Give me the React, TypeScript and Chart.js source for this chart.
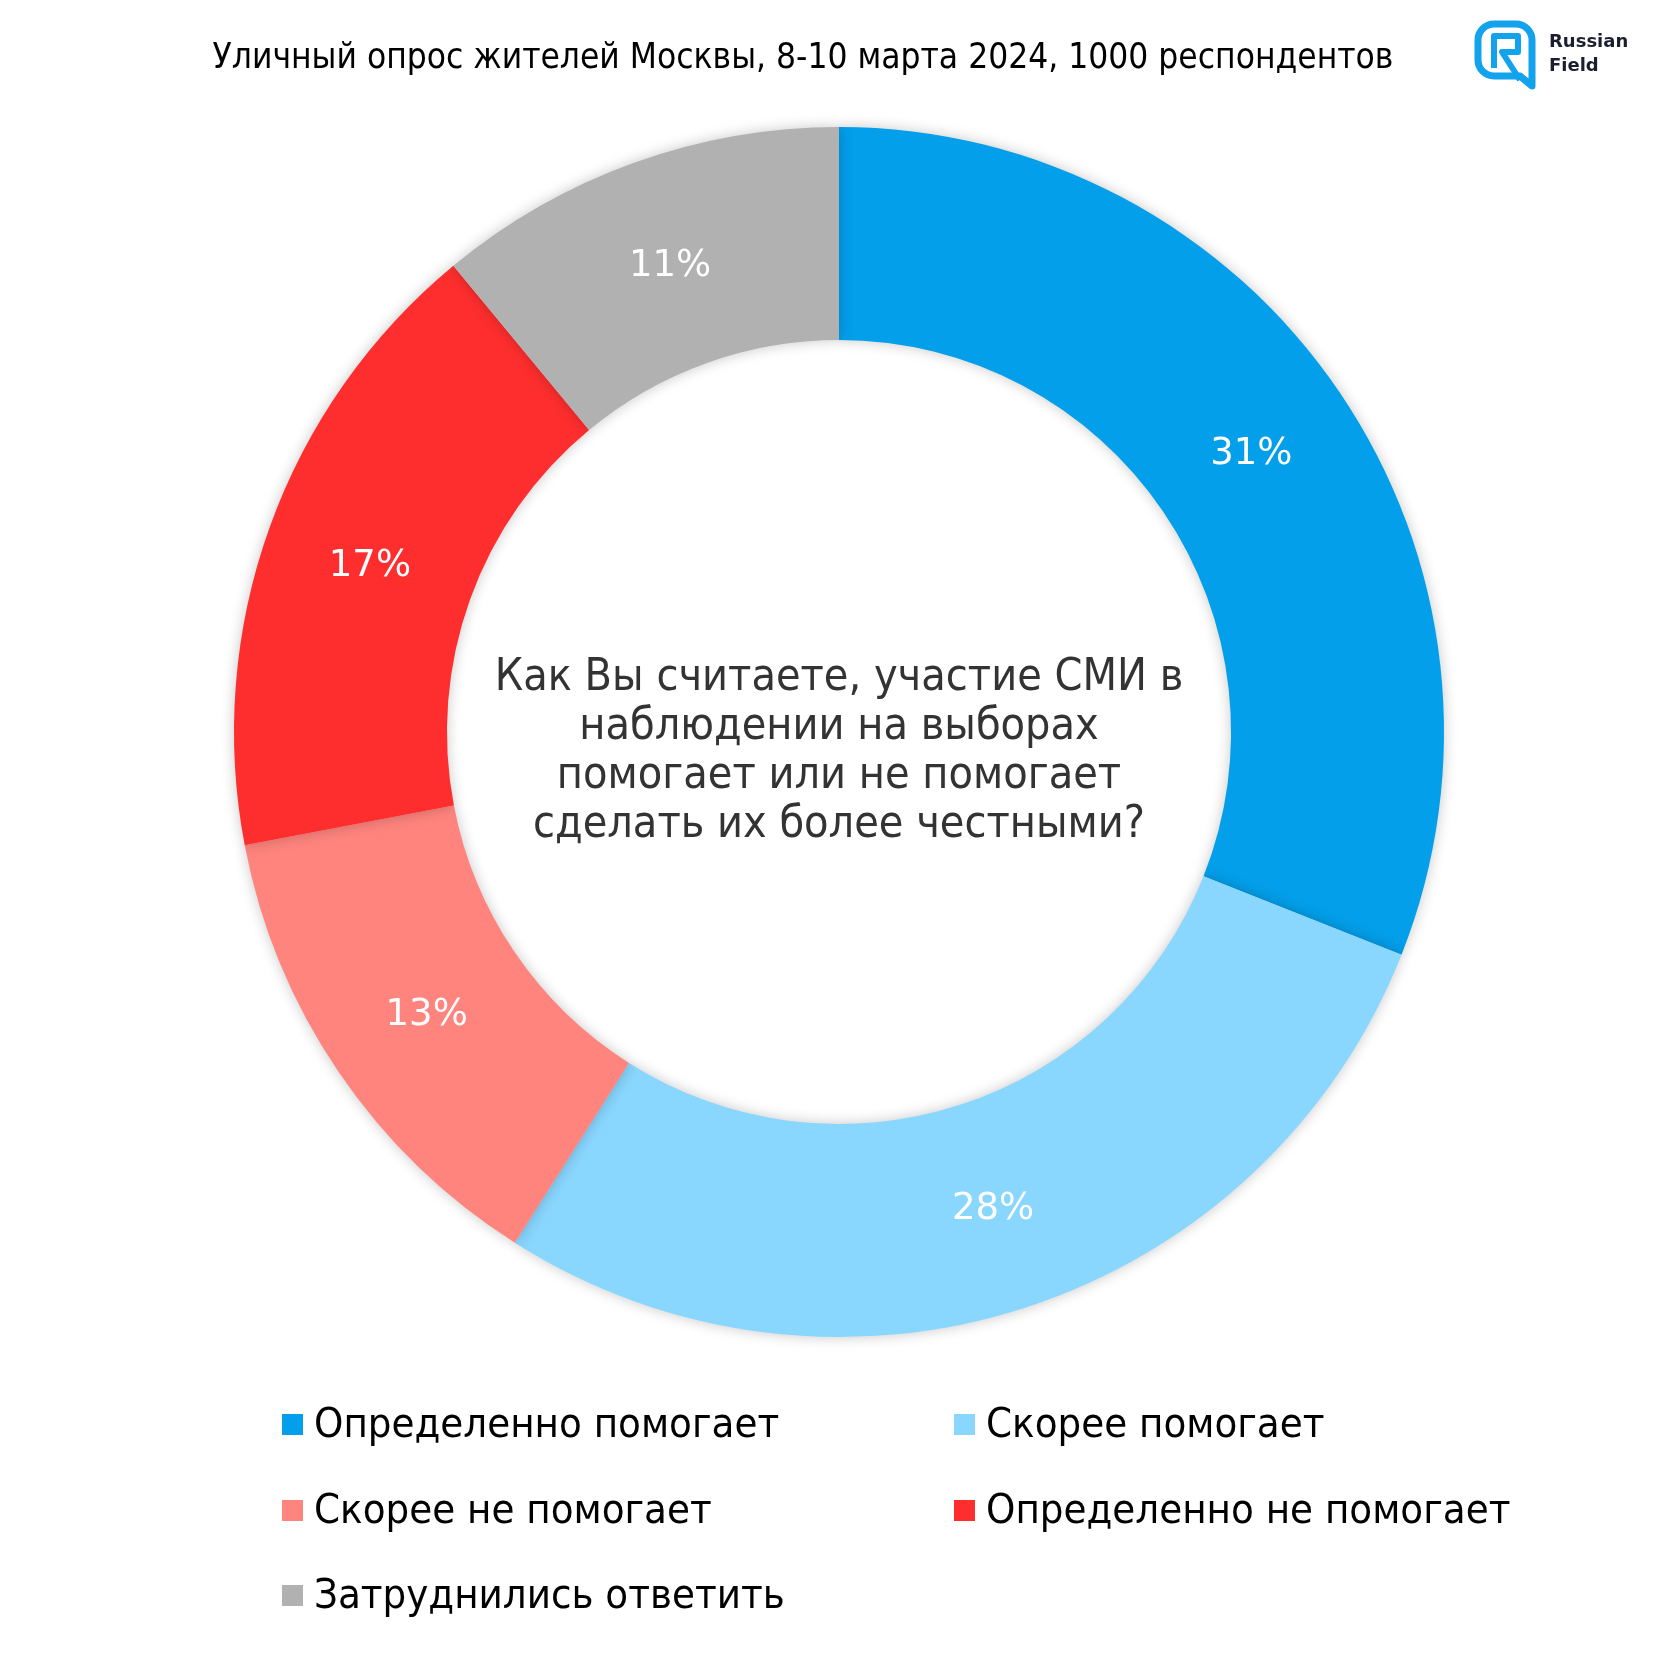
import React, { useEffect, useRef } from "react";
import { Chart, registerables } from "chart.js";

Chart.register(...registerables);

const categories = [
  "Определенно помогает",
  "Скорее помогает",
  "Скорее не помогает",
  "Определенно не помогает",
  "Затруднились ответить",
];
const values = [31, 28, 13, 17, 11];
const colors = ["#039FEA", "#89D6FE", "#FF847E", "#FF2E2E", "#B1B1B1"];
const titleText = "Уличный опрос жителей Москвы, 8-10 марта 2024, 1000 респондентов";
const centerLines = [
  "Как Вы считаете, участие СМИ в",
  "наблюдении на выборах",
  "помогает или не помогает",
  "сделать их более честными?",
];
const logoLines = ["Russian", "Field"];

const COND = '"DejaVu Sans Condensed", "DejaVu Sans", sans-serif';
const SANS = '"DejaVu Sans", sans-serif';

const shadowPlugin = {
  id: "shadow",
  beforeDatasetDraw(chart: any) {
    const ctx = chart.ctx;
    ctx.save();
    ctx.shadowColor = "rgba(0,0,0,0.22)";
    ctx.shadowBlur = 14;
    ctx.shadowOffsetX = 0;
    ctx.shadowOffsetY = 0;
  },
  afterDatasetDraw(chart: any) {
    chart.ctx.restore();
  },
};

const decorPlugin = {
  id: "decor",
  afterDraw(chart: any) {
    const ctx = chart.ctx as CanvasRenderingContext2D;
    const meta = chart.getDatasetMeta(0);
    const data = chart.data.datasets[0].data as number[];
    const bg = chart.data.datasets[0].backgroundColor as string[];
    const labels = chart.data.labels as string[];

    // percentage labels
    ctx.save();
    ctx.fillStyle = "#ffffff";
    ctx.font = `37px ${SANS}`;
    ctx.textAlign = "center";
    ctx.textBaseline = "middle";
    meta.data.forEach((arc: any, i: number) => {
      const p = arc.tooltipPosition();
      ctx.fillText(`${data[i]}%`, p.x, p.y + 3);
    });
    ctx.restore();

    // center question
    const cx = (chart.chartArea.left + chart.chartArea.right) / 2;
    const cy = (chart.chartArea.top + chart.chartArea.bottom) / 2;
    ctx.save();
    ctx.fillStyle = "#333333";
    ctx.font = `44.5px ${COND}`;
    ctx.textAlign = "center";
    ctx.textBaseline = "middle";
    const lh = 49;
    const start = cy - ((centerLines.length - 1) * lh) / 2 + 20;
    centerLines.forEach((l, i) => ctx.fillText(l, cx, start + i * lh));
    ctx.restore();

    // title
    ctx.save();
    ctx.fillStyle = "#000000";
    ctx.font = `35px ${COND}`;
    ctx.textAlign = "center";
    ctx.textBaseline = "middle";
    ctx.fillText(titleText, 803, 59);
    ctx.restore();

    // legend
    ctx.save();
    ctx.font = `41.5px ${COND}`;
    ctx.textBaseline = "middle";
    ctx.textAlign = "left";
    const colX = [282, 954];
    const rowY = [1425, 1511, 1596];
    labels.forEach((lab, i) => {
      const x = colX[i % 2];
      const y = rowY[Math.floor(i / 2)];
      ctx.fillStyle = bg[i];
      ctx.fillRect(x, y - 11, 21, 21);
      ctx.fillStyle = "#000000";
      ctx.fillText(lab, x + 32, y + 1);
    });
    ctx.restore();

    // logo
    ctx.save();
    ctx.strokeStyle = "#12A3EC";
    ctx.lineWidth = 7;
    ctx.lineJoin = "round";
    const lx = 1478, ly = 24, lw = 54, lhh = 54, r = 16;
    ctx.beginPath();
    ctx.moveTo(lx + r, ly);
    ctx.lineTo(lx + lw - r, ly);
    ctx.arcTo(lx + lw, ly, lx + lw, ly + r, r);
    ctx.lineTo(lx + lw, ly + lhh + 8);
    ctx.lineTo(lx + lw - 12, ly + lhh - 2);
    ctx.lineTo(lx + r, ly + lhh - 2);
    ctx.arcTo(lx, ly + lhh - 2, lx, ly + lhh - 2 - r, r);
    ctx.lineTo(lx, ly + r);
    ctx.arcTo(lx, ly, lx + r, ly, r);
    ctx.closePath();
    ctx.stroke();
    ctx.lineWidth = 6;
    ctx.beginPath();
    ctx.moveTo(lx + 16, ly + lhh - 10);
    ctx.lineTo(lx + 16, ly + 12);
    ctx.lineTo(lx + lw - 14, ly + 12);
    ctx.lineTo(lx + lw - 14, ly + 28);
    ctx.lineTo(lx + 24, ly + 28);
    ctx.lineTo(lx + lw - 12, ly + lhh + 2);
    ctx.stroke();
    ctx.fillStyle = "#1B1E2E";
    ctx.font = `bold 18px ${SANS}`;
    ctx.textAlign = "left";
    ctx.textBaseline = "middle";
    ctx.fillText(logoLines[0], 1549, 42);
    ctx.fillText(logoLines[1], 1549, 66);
    ctx.restore();
  },
};

export default function App() {
  const ref = useRef<HTMLCanvasElement | null>(null);
  useEffect(() => {
    if (!ref.current) return;
    const chart = new Chart(ref.current, {
      type: "doughnut",
      data: {
        labels: categories,
        datasets: [
          {
            data: values,
            backgroundColor: colors,
            borderWidth: 0,
          },
        ],
      },
      options: {
        animation: false,
        responsive: false,
        maintainAspectRatio: false,
        cutout: "64.8%",
        layout: { padding: { left: 234, right: 236, top: 127, bottom: 343 } },
        plugins: {
          legend: { display: false },
          tooltip: { enabled: false },
          title: { display: false },
        },
      },
      plugins: [shadowPlugin, decorPlugin],
    });
    return () => chart.destroy();
  }, []);
  return (
    <div style={{ position: "absolute", left: 0, top: 0, width: 1680, height: 1680, background: "#fff" }}>
      <canvas ref={ref} width={1680} height={1680} style={{ width: 1680, height: 1680 }} />
    </div>
  );
}
